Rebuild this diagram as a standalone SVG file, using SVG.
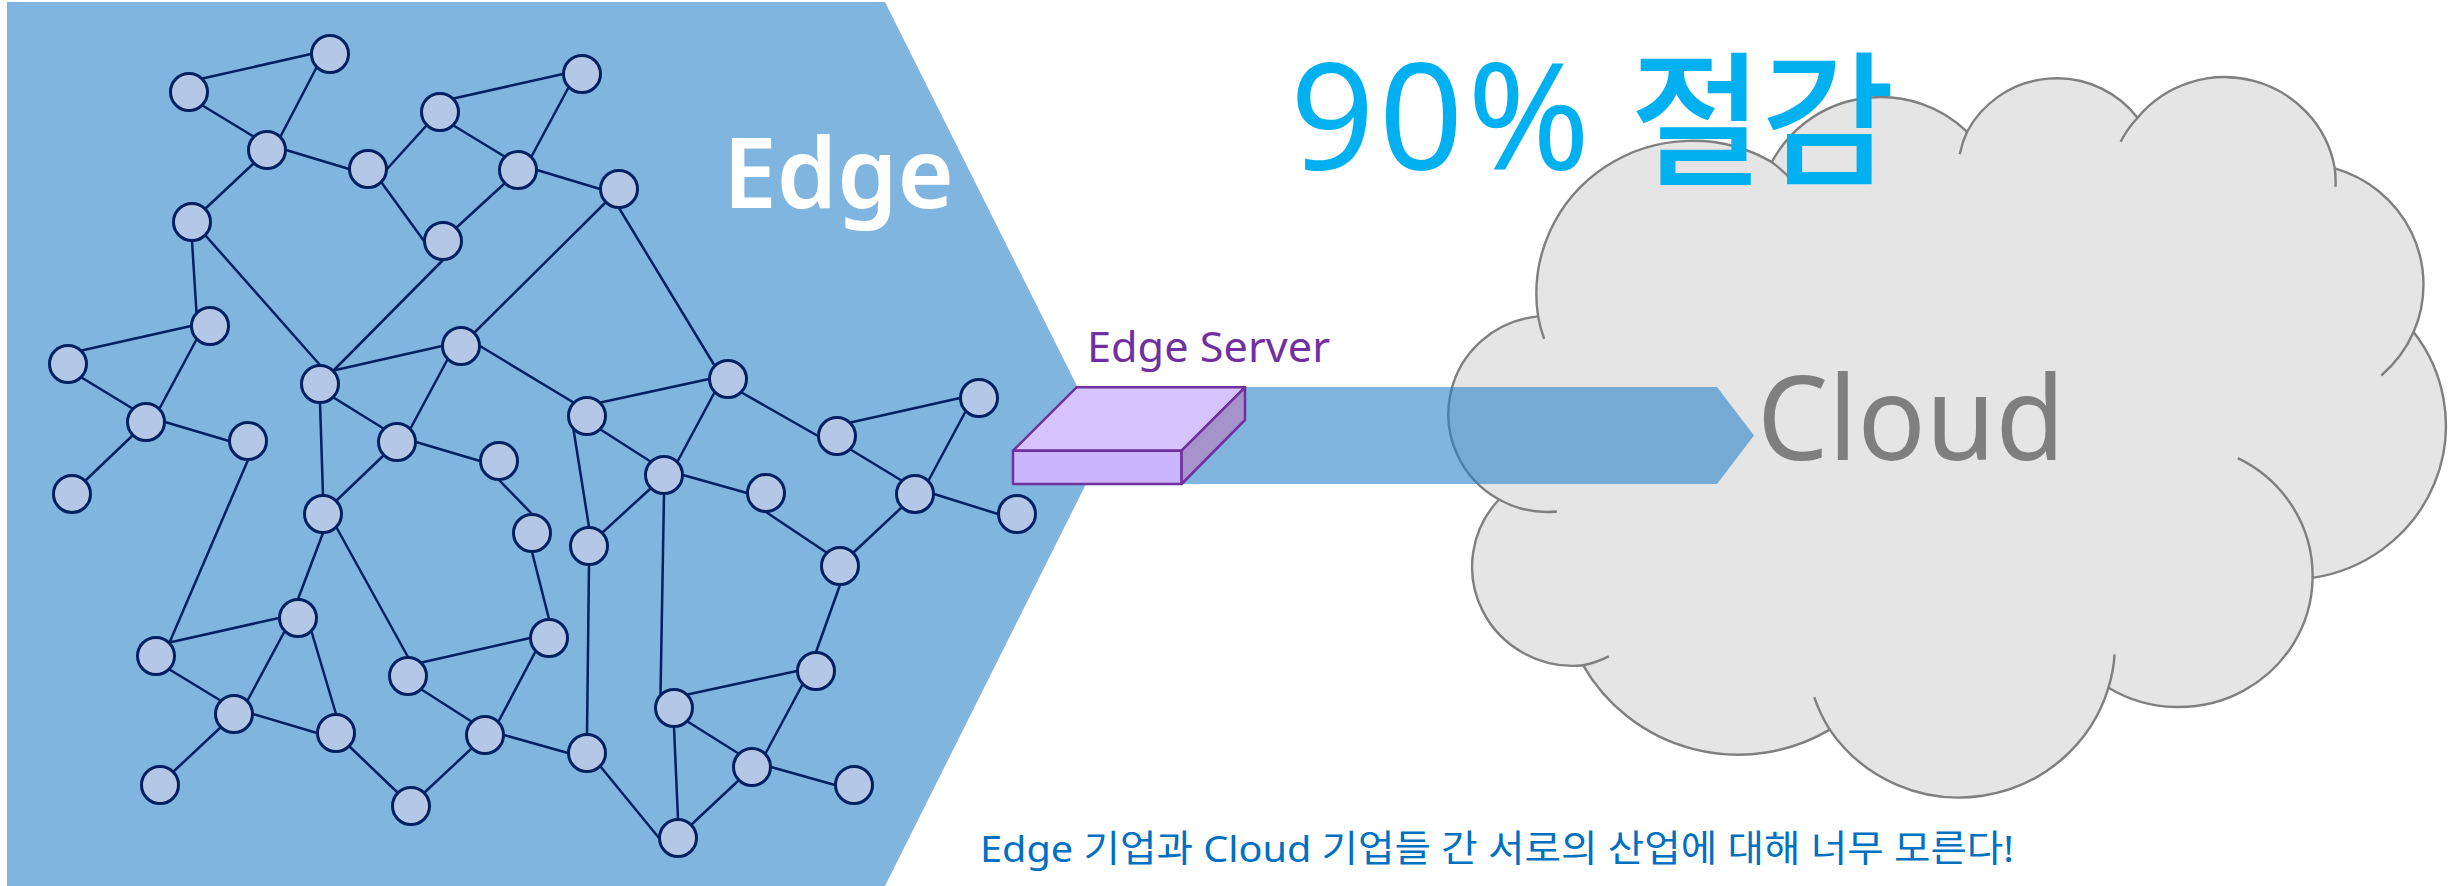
<svg xmlns="http://www.w3.org/2000/svg" width="2456" height="886" viewBox="0 0 2456 886">
<style>
.n{fill:#B4C7E7;stroke:#002060;stroke-width:3}
.e{stroke:#002060;stroke-width:2.5;fill:none}
.c{stroke:#7F7F7F;stroke-width:2.4;fill:none}
.s{stroke:#7030A0;stroke-width:2.5;stroke-linejoin:round}
text{font-family:"Noto Sans","Noto Sans CJK KR",sans-serif}
</style>
<rect width="2456" height="886" fill="#FFFFFF"/>
<polygon id="edge-zone" points="7,2 885,2 1106,444 885,886 7,886" fill="#7FB5DE"/>
<g id="cloud">
<path d="M1538.1,316.4 A156,153 0 0 1 1771.8,162.1 A123,121 0 0 1 1967.1,131.8 A101,99 0 0 1 2137.5,117.7 A112,110 0 0 1 2334.8,168.4 A123,121 0 0 1 2413.6,332.1 A157,154 0 0 1 2312.6,577.9 A134,131 0 0 1 2108.5,687.7 A156,154 0 0 1 1829.7,729.6 A178,176 0 0 1 1583.2,665.3 A101,99 0 0 1 1499,499.5 A99,98 0 0 1 1538.1,316.4 Z" fill="#E5E5E5" stroke="#7F7F7F" stroke-width="2.4"/>
<path class="c" d="M1544.1,338.9 A156,153 0 0 1 1538.1,316.4 M1771.8,162.1 A156,153 0 0 1 1792,180.4 M1959.7,154.3 A101,99 0 0 1 1967.1,131.8 M2120.6,141.7 A112,110 0 0 1 2137.5,117.7 M2334.8,168.4 A112,110 0 0 1 2335.5,186.7 M2413.6,332.1 A123,121 0 0 1 2381.3,375.5 M2237.8,458.1 A134,131 0 0 1 2312.6,577.9 M2114.6,654.3 A156,154 0 0 1 2108.5,687.7 M1829.7,729.6 A156,154 0 0 1 1814.2,697.2 M1608.8,656.4 A101,99 0 0 1 1583.2,665.3 M1556.9,511.5 A99,98 0 0 1 1499,499.5"/>
<text x="1757" y="459.5" font-size="117" fill="#7F7F7F" textLength="308" lengthAdjust="spacingAndGlyphs">Cloud</text>
</g>
<polygon id="arrow" points="1100,387 1717,387 1754,435.5 1717,484 1100,484" fill="#227FC6" fill-opacity="0.58"/>
<g id="edge-server">
<polygon class="s" points="1076.5,387.3 1245,387.3 1181.6,450.7 1013,450.7" fill="#D7C4FF"/>
<polygon class="s" points="1013,450.7 1181.6,450.7 1181.6,484 1013,484" fill="#CCB5FF"/>
<polygon class="s" points="1245,387.3 1245,420 1181.6,484 1181.6,450.7" fill="#A793CC"/>
<text x="1087" y="362" font-size="41" fill="#7030A0" textLength="243" lengthAdjust="spacingAndGlyphs">Edge Server</text>
</g>
<g id="connectors">
<line class="e" x1="311" y1="54" x2="202.5" y2="78.5"/>
<line class="e" x1="316.5" y1="67.5" x2="280.5" y2="136.5"/>
<line class="e" x1="202.5" y1="105.5" x2="253.5" y2="136.5"/>
<line class="e" x1="286" y1="150" x2="349" y2="169"/>
<line class="e" x1="253.5" y1="163.5" x2="205.5" y2="208.5"/>
<line class="e" x1="387" y1="169" x2="426.5" y2="125.5"/>
<line class="e" x1="381.5" y1="182.5" x2="424" y2="241"/>
<line class="e" x1="453.5" y1="98.5" x2="563" y2="74"/>
<line class="e" x1="453.5" y1="125.5" x2="504.5" y2="156.5"/>
<line class="e" x1="568.5" y1="87.5" x2="531.5" y2="156.5"/>
<line class="e" x1="537" y1="170" x2="600" y2="189"/>
<line class="e" x1="504.5" y1="183.5" x2="456.5" y2="227.5"/>
<line class="e" x1="605.5" y1="202.5" x2="474.5" y2="332.5"/>
<line class="e" x1="619" y1="208" x2="714.5" y2="365.5"/>
<line class="e" x1="443" y1="260" x2="333.5" y2="370.5"/>
<line class="e" x1="205.5" y1="235.5" x2="320" y2="365"/>
<line class="e" x1="192" y1="241" x2="196.5" y2="312.5"/>
<line class="e" x1="191" y1="326" x2="81.5" y2="350.5"/>
<line class="e" x1="196.5" y1="339.5" x2="159.5" y2="408.5"/>
<line class="e" x1="81.5" y1="377.5" x2="132.5" y2="408.5"/>
<line class="e" x1="165" y1="422" x2="229" y2="441"/>
<line class="e" x1="132.5" y1="435.5" x2="85.5" y2="480.5"/>
<line class="e" x1="248" y1="460" x2="169.5" y2="642.5"/>
<line class="e" x1="333.5" y1="370.5" x2="442" y2="346"/>
<line class="e" x1="333.5" y1="397.5" x2="383.5" y2="428.5"/>
<line class="e" x1="320" y1="403" x2="323" y2="495"/>
<line class="e" x1="447.5" y1="359.5" x2="410.5" y2="428.5"/>
<line class="e" x1="480" y1="346" x2="573.5" y2="402.5"/>
<line class="e" x1="416" y1="442" x2="480" y2="461"/>
<line class="e" x1="383.5" y1="455.5" x2="336.5" y2="500.5"/>
<line class="e" x1="499" y1="480" x2="532" y2="514"/>
<line class="e" x1="532" y1="552" x2="549" y2="619"/>
<line class="e" x1="323" y1="533" x2="298" y2="599"/>
<line class="e" x1="336.5" y1="527.5" x2="408" y2="657"/>
<line class="e" x1="600.5" y1="402.5" x2="709" y2="379"/>
<line class="e" x1="600.5" y1="429.5" x2="650.5" y2="461.5"/>
<line class="e" x1="573.5" y1="429.5" x2="589" y2="527"/>
<line class="e" x1="714.5" y1="392.5" x2="677.5" y2="461.5"/>
<line class="e" x1="741.5" y1="392.5" x2="818" y2="436"/>
<line class="e" x1="683" y1="475" x2="747" y2="493"/>
<line class="e" x1="650.5" y1="488.5" x2="602.5" y2="532.5"/>
<line class="e" x1="664" y1="494" x2="660.5" y2="694.5"/>
<line class="e" x1="766" y1="512" x2="826.5" y2="552.5"/>
<line class="e" x1="850.5" y1="422.5" x2="960" y2="398"/>
<line class="e" x1="850.5" y1="449.5" x2="901.5" y2="480.5"/>
<line class="e" x1="965.5" y1="411.5" x2="928.5" y2="480.5"/>
<line class="e" x1="934" y1="494" x2="998" y2="514"/>
<line class="e" x1="901.5" y1="507.5" x2="853.5" y2="552.5"/>
<line class="e" x1="840" y1="585" x2="816" y2="652"/>
<line class="e" x1="797" y1="671" x2="687.5" y2="694.5"/>
<line class="e" x1="802.5" y1="684.5" x2="765.5" y2="753.5"/>
<line class="e" x1="687.5" y1="721.5" x2="738.5" y2="753.5"/>
<line class="e" x1="674" y1="727" x2="678" y2="819"/>
<line class="e" x1="771" y1="767" x2="835" y2="785"/>
<line class="e" x1="738.5" y1="780.5" x2="691.5" y2="824.5"/>
<line class="e" x1="659" y1="838" x2="600.5" y2="766.5"/>
<line class="e" x1="568" y1="753" x2="504" y2="735"/>
<line class="e" x1="587" y1="734" x2="589" y2="565"/>
<line class="e" x1="530" y1="638" x2="421.5" y2="662.5"/>
<line class="e" x1="535.5" y1="651.5" x2="498.5" y2="721.5"/>
<line class="e" x1="421.5" y1="689.5" x2="471.5" y2="721.5"/>
<line class="e" x1="471.5" y1="748.5" x2="424.5" y2="792.5"/>
<line class="e" x1="397.5" y1="792.5" x2="349.5" y2="746.5"/>
<line class="e" x1="317" y1="733" x2="253" y2="714"/>
<line class="e" x1="336" y1="714" x2="311.5" y2="631.5"/>
<line class="e" x1="220.5" y1="727.5" x2="173.5" y2="771.5"/>
<line class="e" x1="220.5" y1="700.5" x2="169.5" y2="669.5"/>
<line class="e" x1="247.5" y1="700.5" x2="284.5" y2="631.5"/>
<line class="e" x1="169.5" y1="642.5" x2="279" y2="618"/>
</g>
<g id="n1"><circle class="n" cx="330" cy="54" r="18.5"/></g>
<g id="n2"><circle class="n" cx="189" cy="92" r="18.5"/></g>
<g id="n3"><circle class="n" cx="267" cy="150" r="18.5"/></g>
<g id="n4"><circle class="n" cx="368" cy="169" r="18.5"/></g>
<g id="n5"><circle class="n" cx="440" cy="112" r="18.5"/></g>
<g id="n6"><circle class="n" cx="582" cy="74" r="18.5"/></g>
<g id="n7"><circle class="n" cx="518" cy="170" r="18.5"/></g>
<g id="n8"><circle class="n" cx="619" cy="189" r="18.5"/></g>
<g id="n9"><circle class="n" cx="443" cy="241" r="18.5"/></g>
<g id="n10"><circle class="n" cx="192" cy="222" r="18.5"/></g>
<g id="n11"><circle class="n" cx="210" cy="326" r="18.5"/></g>
<g id="n12"><circle class="n" cx="68" cy="364" r="18.5"/></g>
<g id="n13"><circle class="n" cx="146" cy="422" r="18.5"/></g>
<g id="n14"><circle class="n" cx="248" cy="441" r="18.5"/></g>
<g id="n15"><circle class="n" cx="72" cy="494" r="18.5"/></g>
<g id="n16"><circle class="n" cx="320" cy="384" r="18.5"/></g>
<g id="n17"><circle class="n" cx="461" cy="346" r="18.5"/></g>
<g id="n18"><circle class="n" cx="397" cy="442" r="18.5"/></g>
<g id="n19"><circle class="n" cx="499" cy="461" r="18.5"/></g>
<g id="n20"><circle class="n" cx="323" cy="514" r="18.5"/></g>
<g id="n21"><circle class="n" cx="532" cy="533" r="18.5"/></g>
<g id="n22"><circle class="n" cx="587" cy="416" r="18.5"/></g>
<g id="n23"><circle class="n" cx="728" cy="379" r="18.5"/></g>
<g id="n24"><circle class="n" cx="664" cy="475" r="18.5"/></g>
<g id="n25"><circle class="n" cx="766" cy="493" r="18.5"/></g>
<g id="n26"><circle class="n" cx="589" cy="546" r="18.5"/></g>
<g id="n27"><circle class="n" cx="837" cy="436" r="18.5"/></g>
<g id="n28"><circle class="n" cx="979" cy="398" r="18.5"/></g>
<g id="n29"><circle class="n" cx="915" cy="494" r="18.5"/></g>
<g id="n30"><circle class="n" cx="1017" cy="514" r="18.5"/></g>
<g id="n31"><circle class="n" cx="840" cy="566" r="18.5"/></g>
<g id="n32"><circle class="n" cx="816" cy="671" r="18.5"/></g>
<g id="n33"><circle class="n" cx="674" cy="708" r="18.5"/></g>
<g id="n34"><circle class="n" cx="752" cy="767" r="18.5"/></g>
<g id="n35"><circle class="n" cx="854" cy="785" r="18.5"/></g>
<g id="n36"><circle class="n" cx="678" cy="838" r="18.5"/></g>
<g id="n37"><circle class="n" cx="587" cy="753" r="18.5"/></g>
<g id="n38"><circle class="n" cx="549" cy="638" r="18.5"/></g>
<g id="n39"><circle class="n" cx="408" cy="676" r="18.5"/></g>
<g id="n40"><circle class="n" cx="485" cy="735" r="18.5"/></g>
<g id="n41"><circle class="n" cx="411" cy="806" r="18.5"/></g>
<g id="n42"><circle class="n" cx="336" cy="733" r="18.5"/></g>
<g id="n43"><circle class="n" cx="234" cy="714" r="18.5"/></g>
<g id="n44"><circle class="n" cx="160" cy="785" r="18.5"/></g>
<g id="n45"><circle class="n" cx="156" cy="656" r="18.5"/></g>
<g id="n46"><circle class="n" cx="298" cy="618" r="18.5"/></g>
<text x="723" y="207.5" font-size="97" font-weight="600" fill="#FFFFFF" textLength="231" lengthAdjust="spacingAndGlyphs">Edge</text>
<text x="1290" y="170" font-size="148" fill="#00B0F0" font-weight="400" letter-spacing="4">90% <tspan x="1630" y="173.5" font-size="145" font-weight="500" letter-spacing="-2">절감</tspan></text>
<text x="980" y="862" font-size="37" fill="#0070C0" textLength="1034" lengthAdjust="spacingAndGlyphs">Edge 기업과 Cloud 기업들 간 서로의 산업에 대해 너무 모른다!</text>
</svg>
